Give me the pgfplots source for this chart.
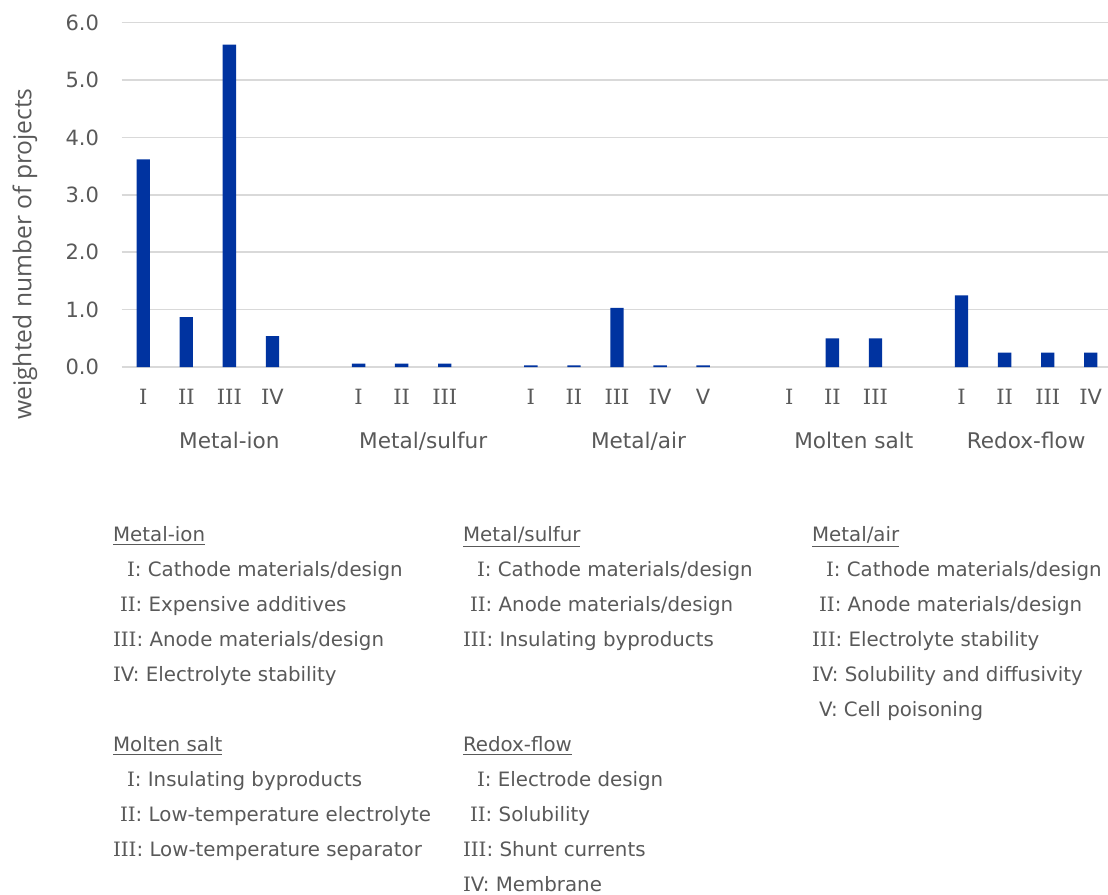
\documentclass[border=0pt]{standalone}
\usepackage{fontspec}
\setmainfont{DejaVu Sans}
\newfontfamily\serifnum{DejaVu Serif}
\newfontfamily\ylabfont{Open Sans}
\usepackage{pgfplots}
\pgfplotsset{compat=1.18}
\definecolor{barblue}{RGB}{0,51,160}
\definecolor{txt}{RGB}{89,89,89}
\definecolor{gridc}{RGB}{217,217,217}
\newcommand{\RI}{{\serifnum I}}
\newcommand{\rI}{\RI}
\newcommand{\rII}{\RI\RI}
\newcommand{\rIII}{\RI\RI\RI}
\newcommand{\rIV}{\RI V}
\newcommand{\rV}{V}
\begin{document}
\begin{tikzpicture}
\useasboundingbox (-60.85bp,-264bp) rectangle (493.15bp,183.5bp);
\begin{axis}[
  scale only axis, width=493.15bp, height=172.15bp,
  xmin=-0.5, xmax=22.4, ymin=0, ymax=6,
  axis line style={draw=none}, major tick length=0pt,
  ytick={0,1,2,3,4,5,6}, ymajorgrids,
  grid style={gridc, line width=0.75bp},
  yticklabel style={font=\fontsize{10.5bp}{12bp}\selectfont, text=txt, anchor=east, inner sep=0pt, xshift=-11.2bp,
    /pgf/number format/.cd, fixed, fixed zerofill, precision=1, assume math mode=true},
  xtick={0,1,2,3,5,6,7,9,10,11,12,13,15,16,17,19,20,21,22},
  xticklabels={\rI,\rII,\rIII,\rIV,\rI,\rII,\rIII,\rI,\rII,\rIII,\rIV,\rV,\rI,\rII,\rIII,\rI,\rII,\rIII,\rIV},
  xticklabel style={font=\fontsize{10.5bp}{12bp}\selectfont, text=txt, anchor=base, inner sep=0pt, yshift=-18.85bp},
  ybar, bar width=0.31,
  clip=false,
]
\addplot[fill=barblue, draw=none] coordinates {
 (0,3.62) (1,0.87) (2,5.62) (3,0.54)
 (5,0.06) (6,0.06) (7,0.06)
 (9,0.03) (10,0.03) (11,1.03) (12,0.03) (13,0.03)
 (16,0.5) (17,0.5)
 (19,1.25) (20,0.25) (21,0.25) (22,0.25)
};
\begin{scope}[every node/.style={anchor=base, inner sep=0pt, text=txt, font=\fontsize{10.8bp}{13bp}\selectfont}]
\node at (axis cs:2,0) [yshift=-40.85bp] {Metal-ion};
\node at (axis cs:6.5,0) [yshift=-40.85bp] {Metal/sulfur};
\node at (axis cs:11.5,0) [yshift=-40.85bp] {Metal/air};
\node at (axis cs:16.5,0) [yshift=-40.85bp] {Molten salt};
\node at (axis cs:20.5,0) [yshift=-40.85bp] {Redox-flow};
\end{scope}
\end{axis}
\node[rotate=90, inner sep=0pt, text=txt, font=\ylabfont\fontsize{12.3bp}{14bp}\selectfont] at (-48.35bp,56.5bp) {weighted number of projects};
\begin{scope}[every node/.style={anchor=base west, inner sep=0pt, text=txt, font=\fontsize{9.9bp}{12bp}\selectfont}]
% column 1
\node at (-4.5bp,-87.35bp) {\underline{Metal-ion}};
\node at (2.5bp,-104.85bp) {\rI: Cathode materials/design};
\node at (-1bp,-122.35bp) {\rII: Expensive additives};
\node at (-4.5bp,-139.85bp) {\rIII: Anode materials/design};
\node at (-4.5bp,-157.35bp) {\rIV: Electrolyte stability};
\node at (-4.5bp,-192.35bp) {\underline{Molten salt}};
\node at (2.5bp,-209.85bp) {\rI: Insulating byproducts};
\node at (-1bp,-227.35bp) {\rII: Low-temperature electrolyte};
\node at (-4.5bp,-244.85bp) {\rIII: Low-temperature separator};
% column 2
\node at (170.5bp,-87.35bp) {\underline{Metal/sulfur}};
\node at (177.5bp,-104.85bp) {\rI: Cathode materials/design};
\node at (174bp,-122.35bp) {\rII: Anode materials/design};
\node at (170.5bp,-139.85bp) {\rIII: Insulating byproducts};
\node at (170.5bp,-192.35bp) {\underline{Redox-flow}};
\node at (177.5bp,-209.85bp) {\rI: Electrode design};
\node at (174bp,-227.35bp) {\rII: Solubility};
\node at (170.5bp,-244.85bp) {\rIII: Shunt currents};
\node at (170.5bp,-262.35bp) {\rIV: Membrane};
% column 3
\node at (345bp,-87.35bp) {\underline{Metal/air}};
\node at (352bp,-104.85bp) {\rI: Cathode materials/design};
\node at (348.5bp,-122.35bp) {\rII: Anode materials/design};
\node at (345bp,-139.85bp) {\rIII: Electrolyte stability};
\node at (345bp,-157.35bp) {\rIV: Solubility and diffusivity};
\node at (348.5bp,-174.85bp) {\rV: Cell poisoning};
\end{scope}
\end{tikzpicture}
\end{document}
